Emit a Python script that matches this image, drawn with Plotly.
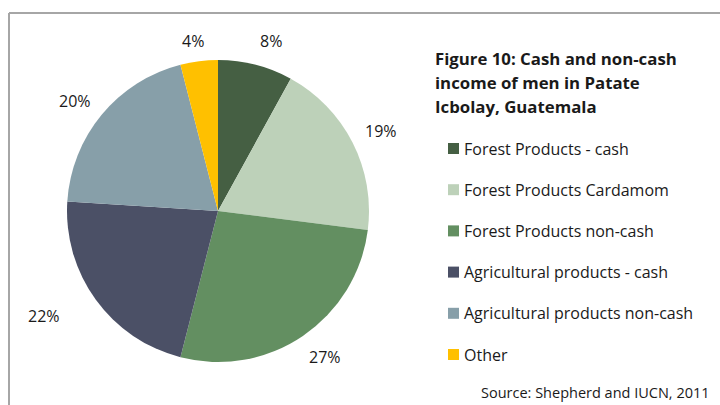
import math
import plotly.graph_objects as go

# Income shares (percent), clockwise from 12 o'clock
categories = [
    "Forest Products - cash",
    "Forest Products Cardamom",
    "Forest Products non-cash",
    "Agricultural products - cash",
    "Agricultural products non-cash",
    "Other",
]
shares = [8, 19, 27, 22, 20, 4]
colors = ["#455F43", "#BDD1B9", "#638F61", "#4B5066", "#879FA9", "#FFC000"]

title_lines = ["Figure 10: Cash and non-cash", "income of men in Patate", "Icbolay, Guatemala"]
source_text = "Source: Shepherd and IUCN, 2011"

W, H = 720, 405
FONT = "Open Sans"
TEXT = "#1a1a1a"

# pie geometry in pixels
CX, CY, R = 218, 211, 151
# extra radial gap (px) and angular shift (deg) for individual percentage labels
label_gap = [4, 1, 3, 23, 1, 0]
label_turn = [3, 1, -2, 5, -2, -1]


def px(x):
    return x / W


def py(y):
    return 1 - y / H


fig = go.Figure(
    go.Pie(
        labels=categories,
        values=shares,
        sort=False,
        direction="clockwise",
        rotation=0,
        marker=dict(colors=colors, line=dict(width=0)),
        textinfo="none",
        hoverinfo="label+percent",
        showlegend=False,
        domain=dict(x=[px(CX - R), px(CX + R)], y=[py(CY + R), py(CY - R)]),
    )
)

annotations = []
shapes = []

# percentage labels just outside each slice
total = sum(shares)
cum = 0
for v, gap, turn in zip(shares, label_gap, label_turn):
    mid = (cum + v / 2) / total * 2 * math.pi + math.radians(turn)
    cum += v
    s, c = math.sin(mid), math.cos(mid)
    r = R + 12 + abs(s) * 16 + abs(c) * 7 + gap
    annotations.append(dict(
        x=px(CX + r * s), y=py(CY - r * c), xref="paper", yref="paper",
        text=f"{v}%", showarrow=False, xanchor="center", yanchor="middle",
        font=dict(family=FONT, size=16, color=TEXT),
    ))

# title block, one annotation per line
for i, line in enumerate(title_lines):
    annotations.append(dict(
        x=px(433), y=py(58 + i * 24.5), xref="paper", yref="paper",
        xanchor="left", yanchor="middle", text=f"<b>{line}</b>", showarrow=False,
        font=dict(family=FONT, size=16.8, color=TEXT),
    ))

# legend: swatch + label per category
for i, (name, col) in enumerate(zip(categories, colors)):
    yc = 148.5 + i * 41.2
    shapes.append(dict(type="rect", xref="paper", yref="paper",
                       x0=px(448), x1=px(459), y0=py(yc + 5.5), y1=py(yc - 5.5),
                       fillcolor=col, line=dict(width=0)))
    annotations.append(dict(
        x=px(462), y=py(yc), xref="paper", yref="paper", xanchor="left", yanchor="middle",
        text=name, showarrow=False, font=dict(family=FONT, size=16, color=TEXT),
    ))

# source note
annotations.append(dict(
    x=px(712), y=py(392), xref="paper", yref="paper", xanchor="right", yanchor="middle",
    text=source_text, showarrow=False, font=dict(family=FONT, size=14.5, color=TEXT),
))

# frame lines (top and left)
shapes.append(dict(type="line", xref="paper", yref="paper", x0=px(9), x1=1.0, y0=py(13), y1=py(13),
                   line=dict(color="#A6A6A6", width=2)))
shapes.append(dict(type="line", xref="paper", yref="paper", x0=px(9), x1=px(9), y0=py(13), y1=0,
                   line=dict(color="#A6A6A6", width=2)))

fig.update_layout(
    width=W, height=H,
    margin=dict(l=0, r=0, t=0, b=0),
    paper_bgcolor="white", plot_bgcolor="white",
    annotations=annotations, shapes=shapes,
)

fig.write_html("out.html")
